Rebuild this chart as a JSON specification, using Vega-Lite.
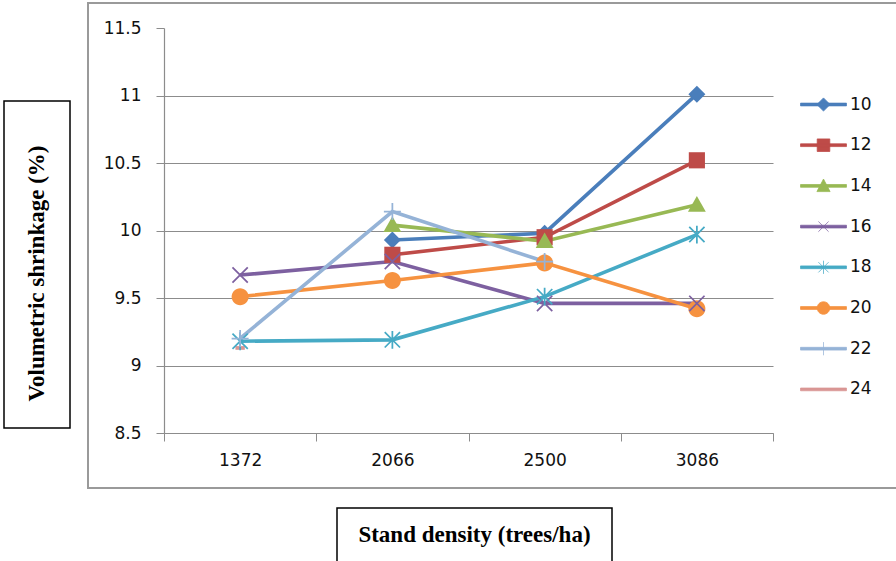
{
  "$schema": "https://vega.github.io/schema/vega-lite/v6.json",
  "padding": {"left": 3, "top": 2, "right": 0, "bottom": 0},
  "background": "white",
  "config": {"view": {"stroke": null}},
  "datasets": {
    "pts": [
      {"series": "10", "density": 2066, "value": 9.93},
      {"series": "10", "density": 2500, "value": 9.98},
      {"series": "10", "density": 3086, "value": 11.01},
      {"series": "12", "density": 2066, "value": 9.82},
      {"series": "12", "density": 2500, "value": 9.95},
      {"series": "12", "density": 3086, "value": 10.52},
      {"series": "14", "density": 2066, "value": 10.04},
      {"series": "14", "density": 2500, "value": 9.92},
      {"series": "14", "density": 3086, "value": 10.19},
      {"series": "16", "density": 1372, "value": 9.67},
      {"series": "16", "density": 2066, "value": 9.77},
      {"series": "16", "density": 2500, "value": 9.46},
      {"series": "16", "density": 3086, "value": 9.46},
      {"series": "18", "density": 1372, "value": 9.18},
      {"series": "18", "density": 2066, "value": 9.19},
      {"series": "18", "density": 2500, "value": 9.51},
      {"series": "18", "density": 3086, "value": 9.97},
      {"series": "20", "density": 1372, "value": 9.51},
      {"series": "20", "density": 2066, "value": 9.63},
      {"series": "20", "density": 2500, "value": 9.76},
      {"series": "20", "density": 3086, "value": 9.42},
      {"series": "22", "density": 1372, "value": 9.2},
      {"series": "22", "density": 2066, "value": 10.14},
      {"series": "22", "density": 2500, "value": 9.77},
      {"series": "24", "density": 1372, "value": 9.13}
    ]
  },
  "spacing": 16,
  "resolve": {"scale": {"color": "independent", "shape": "independent"}, "legend": {"color": "independent", "shape": "independent"}},
  "hconcat": [
    {
      "spacing": 0,
      "vconcat": [
        {"width": 66, "height": 97, "data": {"values": [{}]}, "mark": {"type": "point", "opacity": 0}},
        {
          "width": 66, "height": 327,
          "view": {"stroke": "#000000", "strokeWidth": 1.5},
          "data": {"values": [{"label": "Volumetric shrinkage (%)"}]},
          "mark": {"type": "text", "angle": 270, "font": "Liberation Serif", "fontWeight": "bold", "fontSize": 23, "align": "center", "baseline": "middle", "dx": -9, "color": "#000000"},
          "encoding": {"text": {"field": "label", "type": "nominal"}}
        }
      ]
    },
    {
      "spacing": 18,
      "resolve": {"scale": {"color": "independent", "shape": "independent"}, "legend": {"color": "independent", "shape": "independent"}},
      "vconcat": [
        {
          "width": 809, "height": 485,
          "view": {"stroke": "#9a9a9a", "strokeWidth": 2},
          "data": {"name": "pts"},
          "transform": [{"calculate": "'m' + datum.series", "as": "mk"}],
          "encoding": {
            "x": {
              "field": "density", "type": "ordinal", "bandPosition": 0.5,
              "scale": {"type": "band", "range": [76, 685], "paddingInner": 0, "paddingOuter": 0},
              "axis": {"orient": "bottom", "offset": -55, "title": null, "labelAngle": 0, "tickBand": "extent", "tickSize": 8, "tickColor": "#8c8c8c", "domainColor": "#8c8c8c", "domainWidth": 1.2, "labelFont": "DejaVu Sans", "labelFontSize": 17, "labelColor": "#111111", "labelPadding": 11, "grid": false}
            },
            "y": {
              "field": "value", "type": "quantitative",
              "scale": {"domain": [8.5, 11.5], "range": [430, 25], "nice": false, "zero": false},
              "axis": {"offset": -76, "title": null, "values": [8.5, 9, 9.5, 10, 10.5, 11, 11.5], "format": "~g", "grid": true, "gridColor": "#8c8c8c", "gridWidth": 1.2, "gridOpacity": {"condition": {"test": "datum.value >= 11.5", "value": 0}, "value": 1}, "tickSize": 8, "tickColor": "#8c8c8c", "domainColor": "#8c8c8c", "domainWidth": 1.2, "labelFont": "DejaVu Sans", "labelFontSize": 17, "labelColor": "#111111", "labelPadding": 15}
            },
            "color": {
              "field": "series", "type": "nominal",
              "scale": {"domain": ["10", "12", "14", "16", "18", "20", "22", "24"], "range": ["#4A7EBB", "#BE4B48", "#98B954", "#7D60A0", "#46AAC5", "#F69240", "#95B3D7", "#D99694"]},
              "legend": {
                "orient": "none", "legendX": 727, "legendY": 93, "title": null, "padding": 0,
                "symbolSize": 144, "labelOffset": 18, "rowPadding": 22.7,
                "labelFont": "DejaVu Sans", "labelFontSize": 17, "labelColor": "#111111",
                "encode": {
                  "symbols": {
                    "update": {
                      "shape": {"signal": "['M-3.83,-0.23H3.83V0.23H-3.83ZM0,-1.1L1.1,0L0,1.1L-1.1,0Z','M-3.83,-0.23H3.83V0.23H-3.83ZM-1.05,-1.05H1.05V1.05H-1.05Z','M-3.83,-0.23H3.83V0.23H-3.83ZM0,-1.15L1.1,0.95H-1.1Z','M-3.83,-0.23H3.83V0.23H-3.83ZM-0.85,-0.85L0.85,0.85M-0.85,0.85L0.85,-0.85','M-3.83,-0.23H3.83V0.23H-3.83ZM-0.85,-0.85L0.85,0.85M-0.85,0.85L0.85,-0.85M0,-1.1V1.1','M-3.83,-0.23H3.83V0.23H-3.83ZM1.05,0A1.05,1.05,0,1,1,-1.05,0A1.05,1.05,0,1,1,1.05,0Z','M-3.83,-0.23H3.83V0.23H-3.83ZM0,-1.1V1.1','M-3.83,-0.23H3.83V0.23H-3.83Z'][indexof(['10','12','14','16','18','20','22','24'], datum.value)]"},
                      "fill": {"signal": "['#4A7EBB','#BE4B48','#98B954','#7D60A0','#46AAC5','#F69240','#95B3D7','#D99694'][indexof(['10','12','14','16','18','20','22','24'], datum.value)]"},
                      "stroke": {"signal": "['#4A7EBB','#BE4B48','#98B954','#7D60A0','#46AAC5','#F69240','#95B3D7','#D99694'][indexof(['10','12','14','16','18','20','22','24'], datum.value)]"},
                      "strokeWidth": {"value": 0.75},
                      "size": {"value": 144},
                      "opacity": {"value": 1},
                      "fillOpacity": {"value": 1},
                      "strokeOpacity": {"value": 1}
                    }
                  }
                }
              }
            }
          },
          "layer": [
            {"mark": {"type": "line", "strokeWidth": 3.6}},
            {
              "transform": [{"filter": {"field": "series", "oneOf": ["10", "12", "14", "20", "24"]}}],
              "mark": {"type": "point", "filled": true, "size": 289, "opacity": 1},
              "encoding": {
                "shape": {
                  "field": "mk", "type": "nominal", "legend": null,
                  "scale": {"domain": ["m10", "m12", "m14", "m16", "m18", "m20", "m22", "m24"], "range": ["M0,-1L1,0L0,1L-1,0Z", "M-0.95,-0.95H0.95V0.95H-0.95Z", "M0,-1.05L1.05,0.8H-1.05Z", "M-0.9,-0.9L0.9,0.9M-0.9,0.9L0.9,-0.9", "M-0.9,-0.9L0.9,0.9M-0.9,0.9L0.9,-0.9M0,-1.05V1.05", "M1,0A1,1,0,1,1,-1,0A1,1,0,1,1,1,0Z", "M-1,0H1M0,-1V1", "M-0.55,-0.22H0.55V0.22H-0.55Z"]}
                }
              }
            },
            {
              "transform": [{"filter": {"field": "series", "oneOf": ["16", "18", "22"]}}],
              "mark": {"type": "point", "filled": false, "size": 289, "strokeWidth": 1.75, "opacity": 1},
              "encoding": {
                "shape": {
                  "field": "mk", "type": "nominal", "legend": null,
                  "scale": {"domain": ["m10", "m12", "m14", "m16", "m18", "m20", "m22", "m24"], "range": ["M0,-1L1,0L0,1L-1,0Z", "M-0.95,-0.95H0.95V0.95H-0.95Z", "M0,-1.05L1.05,0.8H-1.05Z", "M-0.9,-0.9L0.9,0.9M-0.9,0.9L0.9,-0.9", "M-0.9,-0.9L0.9,0.9M-0.9,0.9L0.9,-0.9M0,-1.05V1.05", "M1,0A1,1,0,1,1,-1,0A1,1,0,1,1,1,0Z", "M-1,0H1M0,-1V1", "M-0.55,-0.22H0.55V0.22H-0.55Z"]}
                }
              }
            }
          ]
        },
        {
          "spacing": 0,
          "hconcat": [
            {"width": 248, "height": 54, "data": {"values": [{}]}, "mark": {"type": "point", "opacity": 0}},
            {
              "width": 275, "height": 54,
              "view": {"stroke": "#000000", "strokeWidth": 1.5},
              "data": {"values": [{"label": "Stand density (trees/ha)"}]},
              "mark": {"type": "text", "font": "Liberation Serif", "fontWeight": "bold", "fontSize": 23, "align": "center", "baseline": "middle", "color": "#000000"},
              "encoding": {"text": {"field": "label", "type": "nominal"}}
            }
          ]
        }
      ]
    }
  ]
}
